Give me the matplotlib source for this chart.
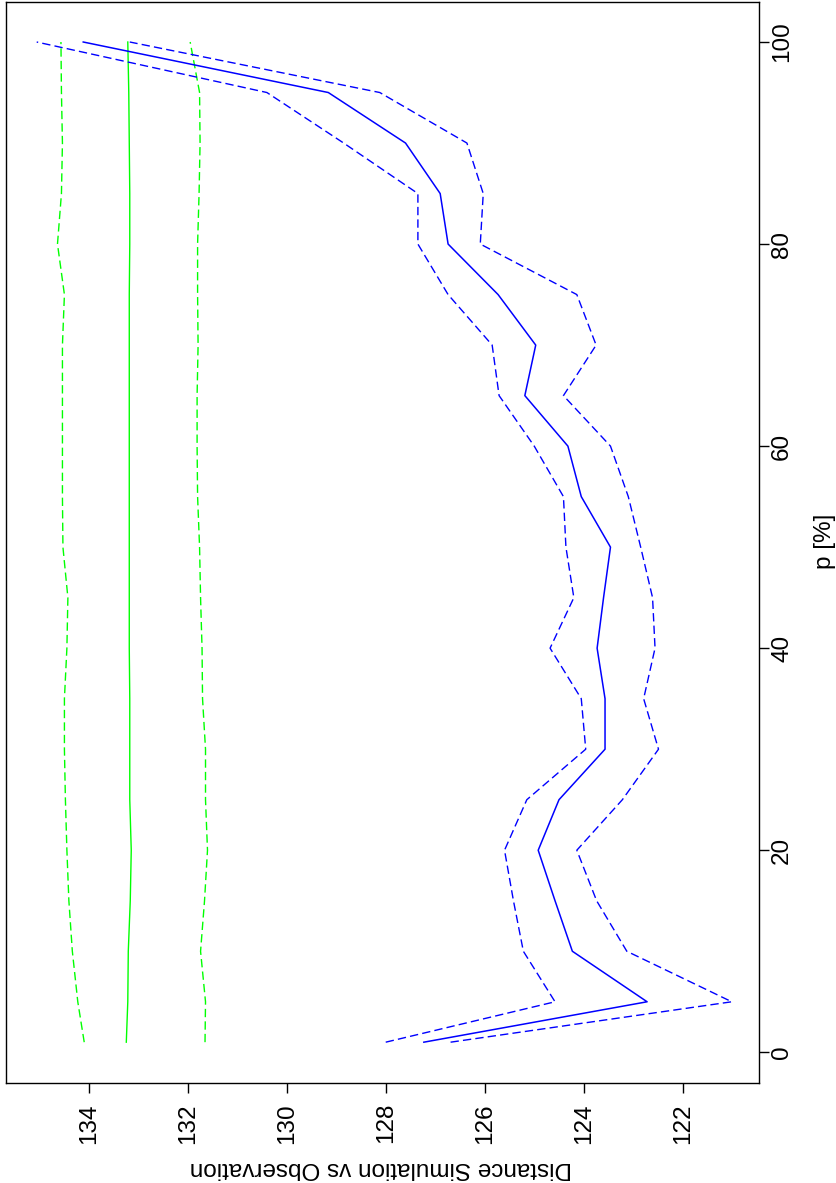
import matplotlib
matplotlib.use("Agg")
import matplotlib.pyplot as plt

# ---- data ----
p = [1, 5, 10, 15, 20, 25, 30, 35, 40, 45, 50, 55, 60, 65, 70, 75, 80, 85, 90, 95, 100]

blue_mean = [127.23, 122.72, 124.23, 124.58, 124.92, 124.50, 123.57, 123.57, 123.73, 123.60, 123.46,
             124.05, 124.32, 125.19, 124.97, 125.73, 126.74, 126.90, 127.60, 129.16, 134.11]
blue_upper = [128.00, 124.58, 125.22, 125.42, 125.60, 125.15, 123.96, 124.05, 124.68, 124.20, 124.36,
              124.41, 125.00, 125.71, 125.85, 126.74, 127.35, 127.35, 128.85, 130.40, 135.05]
blue_lower = [126.69, 121.01, 123.13, 123.74, 124.14, 123.22, 122.49, 122.79, 122.56, 122.61, 122.85,
              123.10, 123.46, 124.41, 123.75, 124.14, 126.09, 126.03, 126.36, 128.12, 133.17]

green_mean = [133.24, 133.21, 133.20, 133.16, 133.14, 133.17, 133.17, 133.17, 133.18, 133.18, 133.18,
              133.18, 133.18, 133.18, 133.18, 133.18, 133.17, 133.17, 133.18, 133.19, 133.21]
green_upper = [134.09, 134.22, 134.33, 134.40, 134.44, 134.47, 134.49, 134.49, 134.44, 134.42, 134.52,
               134.53, 134.53, 134.53, 134.53, 134.49, 134.63, 134.55, 134.53, 134.55, 134.56]
green_lower = [131.65, 131.64, 131.74, 131.66, 131.60, 131.64, 131.64, 131.70, 131.71, 131.74, 131.76,
               131.80, 131.81, 131.81, 131.79, 131.80, 131.80, 131.77, 131.75, 131.76, 131.95]

dist_ticks = [122, 124, 126, 128, 130, 132, 134]
p_ticks = [0, 20, 40, 60, 80, 100]
x_label = "p [%]"
y_label = "Distance Simulation vs Observation"

plt.rcParams['font.family'] = ['Liberation Sans', 'DejaVu Sans']
FS = 17.5

W, H = 837, 1183
fig = plt.figure(figsize=(W / 100, H / 100), dpi=100)
ax = fig.add_axes([6 / W, (H - 1083) / H, (759 - 6) / W, (1083 - 2) / H])

dash = (6, 3)
ax.plot(green_mean, p, color='#00ff00', lw=1.0)
ax.plot(green_upper, p, color='#00ff00', lw=1.0, ls='--', dashes=dash)
ax.plot(green_lower, p, color='#00ff00', lw=1.0, ls='--', dashes=dash)
ax.plot(blue_mean, p, color='#0000ff', lw=1.1)
ax.plot(blue_upper, p, color='#0000ff', lw=1.0, ls='--', dashes=dash)
ax.plot(blue_lower, p, color='#0000ff', lw=1.0, ls='--', dashes=dash)

ax.set_xlim(135.67, 120.46)
ax.set_ylim(-3.04, 103.96)

ax.set_xticks(dist_ticks)
ax.set_xticklabels([str(t) for t in dist_ticks], rotation=90, fontsize=FS, ha='center', va='top')
ax.yaxis.tick_right()
ax.set_yticks(p_ticks)
ax.set_yticklabels([str(t) for t in p_ticks], rotation=90, fontsize=FS, va='center')
ax.tick_params(axis='both', direction='out', length=7.2, width=1.0, colors='black')
ax.tick_params(axis='x', pad=7.2)
ax.tick_params(axis='y', pad=1.5)

for s in ax.spines.values():
    s.set_linewidth(1.0)
    s.set_color('black')

fig.text(825 / W, 1 - 541 / H, x_label, rotation=90, ha='center', va='center', fontsize=FS)
fig.text(381 / W, 1 - 1168 / H, y_label, rotation=180, ha='center', va='center', fontsize=FS)

fig.savefig("out.png", dpi=100, facecolor='white')
